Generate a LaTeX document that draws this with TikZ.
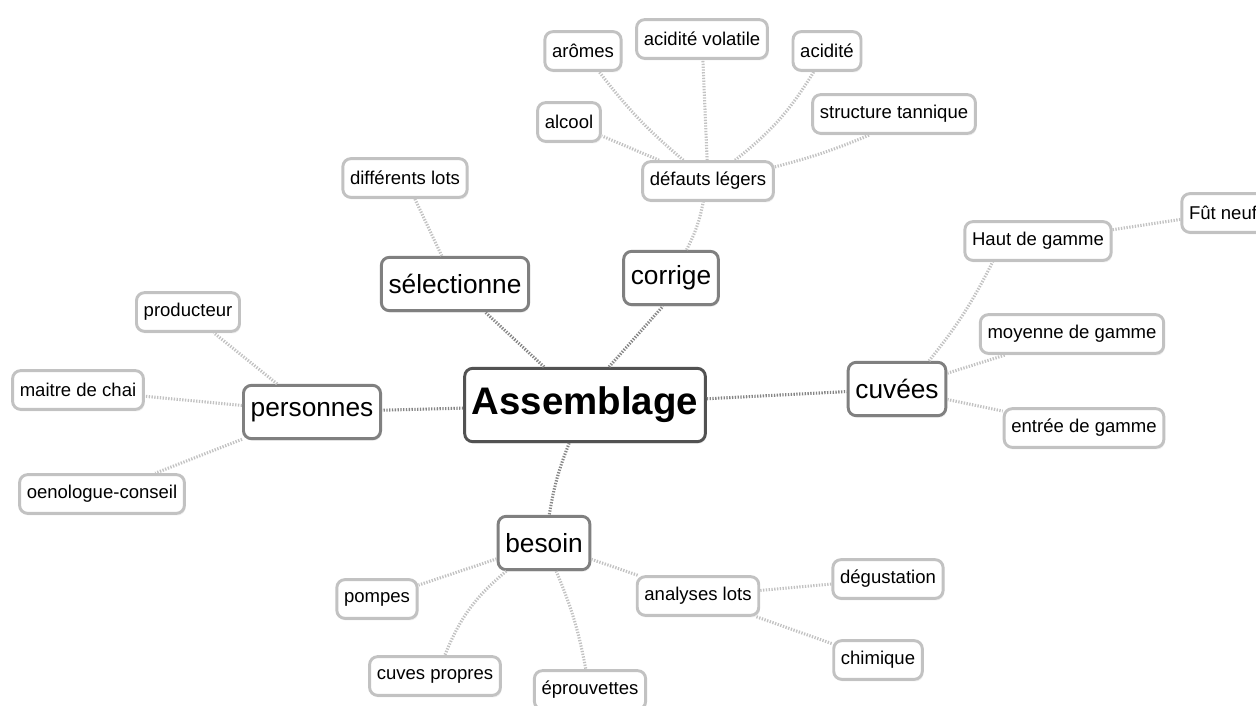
\documentclass[tikz,border=0pt]{standalone}
\usepackage{fontspec}
\setmainfont{Liberation Sans}
\usepackage{tikz}
\usepackage{xcolor}
\usetikzlibrary{shadows, positioning}
\tikzstyle{leaf} = [rectangle, rounded corners=6pt, draw=black!24, line width=2.2pt, fill=white, inner xsep=5.4pt, minimum height=29pt, font=\fontsize{13.9}{16}\selectfont, drop shadow={shadow xshift=0.9pt, shadow yshift=-1.6pt, opacity=0.12}]
\tikzstyle{topic} = [leaf, draw=black!50, minimum height=40pt, font=\fontsize{19.7}{22}\selectfont]
\tikzstyle{hub} = [leaf, draw=black!68, minimum height=55pt, font=\fontsize{28.8}{32}\selectfont\bfseries]
\tikzstyle{link} = [line width=2.3pt, draw=black!24, dash pattern=on 1pt off 1.1pt]
\tikzstyle{mainlink} = [link, draw=black!48]

\begin{document}
\begin{tikzpicture}[x=0.75pt, y=-0.75pt]
\useasboundingbox (0,0) rectangle (1256,706);
% centre et branches
\node[hub] (assemblage) at (585,405) {Assemblage};
\node[topic] (selectionne) at (455,284) {sélectionne};
\node[topic] (corrige) at (671,278) {corrige};
\node[topic] (personnes) at (312,412) {personnes};
\node[topic] (cuvees) at (897,389) {cuvées};
\node[topic] (besoin) at (544,543) {besoin};

% feuilles
\node[leaf] (lots) at (405,178) {différents lots};
\node[leaf] (defauts) at (708,181) {défauts légers};
\node[leaf] (alcool) at (569,122) {alcool};
\node[leaf] (aromes) at (583,51) {arômes};
\node[leaf] (volatile) at (702,39) {acidité volatile};
\node[leaf] (acidite) at (827,51) {acidité};
\node[leaf] (tannique) at (894,114) {structure tannique};
\node[leaf] (haut) at (1038,241) {Haut de gamme};
\node[leaf] (fut) at (1223,213) {Fût neuf};
\node[leaf] (moyenne) at (1072,334) {moyenne de gamme};
\node[leaf] (entree) at (1084,428) {entrée de gamme};
\node[leaf] (producteur) at (188,312) {producteur};
\node[leaf] (maitre) at (78,390) {maitre de chai};
\node[leaf] (oenologue) at (102,494) {oenologue-conseil};
\node[leaf] (pompes) at (377,599) {pompes};
\node[leaf] (cuves) at (435,676) {cuves propres};
\node[leaf] (eprouvettes) at (590,690) {éprouvettes};
\node[leaf] (analyses) at (698,596) {analyses lots};
\node[leaf] (degustation) at (888,579) {dégustation};
\node[leaf] (chimique) at (878,660) {chimique};

\draw[mainlink] (assemblage) -- (selectionne);
\draw[mainlink] ([xshift=18pt]assemblage.north) -- ([xshift=-6pt]corrige.south);
\draw[mainlink] (assemblage) -- (personnes);
\draw[mainlink] (assemblage) -- (cuvees);
\draw[mainlink] (assemblage) to[bend right=6] (besoin);

\draw[link] (selectionne) -- (lots);
\draw[link] (corrige) to[bend right=8] (defauts);
\draw[link] (defauts) -- (alcool);
\draw[link] (defauts) to[bend left=6] (aromes);
\draw[link] (defauts) -- (volatile);
\draw[link] (defauts) to[bend right=10] (acidite);
\draw[link] (defauts) to[bend right=4] ([xshift=-18pt]tannique.south);

\draw[link] ([xshift=24pt]cuvees.north) to[bend right=6] ([xshift=-34pt]haut.south);
\draw[link] (haut) -- (fut);
\draw[link] (cuvees) -- (moyenne);
\draw[link] (cuvees) -- (entree);

\draw[link] (personnes) -- (producteur);
\draw[link] (personnes) -- (maitre);
\draw[link] (personnes) -- (oenologue);

\draw[link] (besoin) -- (pompes);
\draw[link] (besoin) to[bend right=14] (cuves);
\draw[link] (besoin) to[bend left=6] (eprouvettes);
\draw[link] (besoin) -- (analyses);
\draw[link] (analyses) -- (degustation);
\draw[link] (analyses) -- (chimique);
\end{tikzpicture}
\end{document}
